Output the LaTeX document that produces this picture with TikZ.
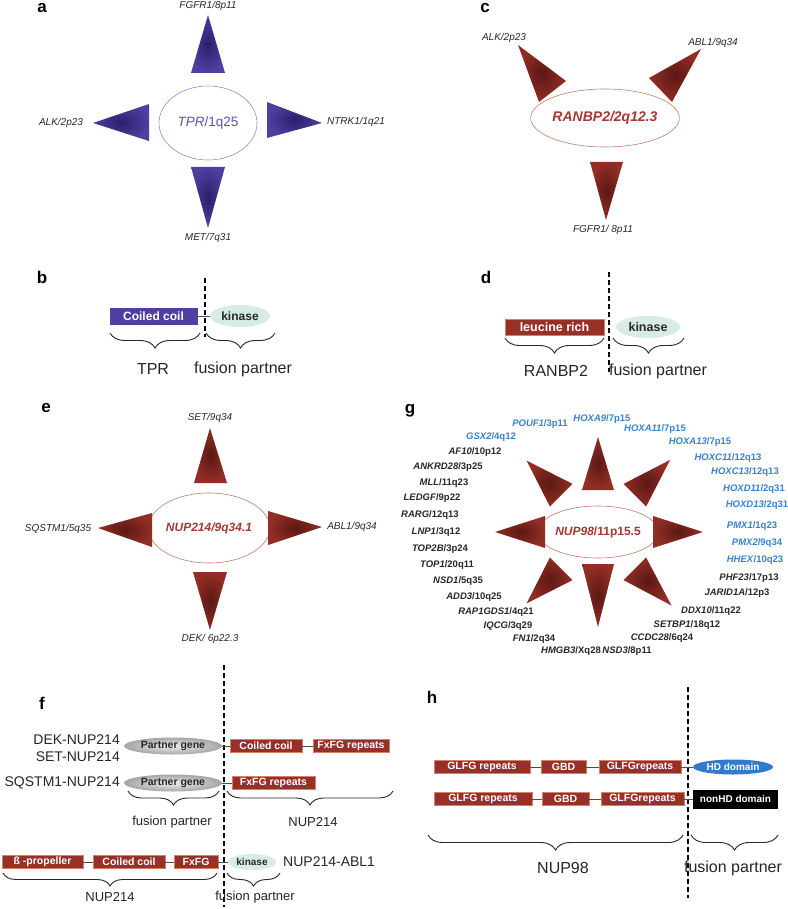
\documentclass[tikz,border=0pt]{standalone}
\usepackage{fontspec}
\setmainfont{Liberation Sans}
\usetikzlibrary{positioning, shapes.geometric, decorations.pathreplacing, calc}

\definecolor{tprpurple}{RGB}{80,62,160}
\definecolor{tprdark}{RGB}{44,30,108}
\definecolor{tprtext}{RGB}{96,78,186}
\definecolor{tprring}{RGB}{150,140,210}
\definecolor{nupred}{RGB}{146,46,38}
\definecolor{nupdark}{RGB}{92,24,20}
\definecolor{nuptext}{RGB}{166,56,52}
\definecolor{nupring}{RGB}{192,126,106}
\definecolor{domred}{RGB}{150,48,40}
\definecolor{domedge}{RGB}{214,128,104}
\definecolor{mint}{RGB}{214,236,228}
\definecolor{hdblue}{RGB}{50,122,204}
\definecolor{hoxblue}{RGB}{56,130,204}
\definecolor{inkgray}{RGB}{40,40,40}

\newcommand{\fsz}[1]{\fontsize{#1}{#1}\selectfont}

\begin{document}
\begin{tikzpicture}[x=1pt, y=-1pt,
  panel/.style={font=\fsz{17}\bfseries, inner sep=0pt},
  hub/.style={ellipse, draw=#1, fill=white, line width=0.6pt, inner sep=0pt},
  tria/.style={shading=radial, inner color=tprdark, outer color=tprpurple},
  trin/.style={shading=radial, inner color=nupdark, outer color=nupred},
  gene/.style={font=\fsz{10}\itshape, text=inkgray, inner sep=1pt},
  fus/.style={font=\fsz{9.5}\bfseries, text=#1, inner sep=0pt},
  fus/.default=inkgray,
  dom/.style={draw=domedge, fill=domred, line width=0.5pt, text=white, font=\fsz{10.5}\bfseries,
              minimum height=13pt, inner sep=0pt},
  kin/.style={ellipse, fill=mint, text=inkgray, inner sep=0pt},
  pgene/.style={ellipse, minimum width=98pt, minimum height=17pt, inner sep=0pt,
                inner color=gray!15, outer color=gray!70, font=\fsz{10.5}\bfseries, text=inkgray},
  link/.style={draw=gray!60!black, line width=0.8pt},
  cut/.style={line width=1.1pt, dash pattern=on 5pt off 3pt},
  brc/.style={decorate, decoration={brace, mirror, amplitude=#1}, draw=inkgray, line width=0.9pt},
  brc/.default=15pt,
  big/.style={font=\fsz{16}, text=black!85, inner sep=0pt},
  mid/.style={font=\fsz{13}, text=black!85, inner sep=0pt},
  tag/.style={font=\fsz{14}, text=black!85, inner sep=0pt}
]
\fill[white] (0,0) rectangle (787,909);
\useasboundingbox (0,0) rectangle (787,909);

% a: TPR partners
\node[panel] (la) at (42,8) {a};
\node[hub=tprring, minimum width=98pt, minimum height=74pt] (tpr) at (208,123)
  {\fsz{13.5}\color{tprtext}\textit{TPR}/1q25};
\shade[tria] (208,15) -- (225,73) -- (191,73) -- cycle;
\shade[tria] (93,123) -- (149,104) -- (149,141) -- cycle;
\shade[tria] (322,123) -- (267,102) -- (267,138) -- cycle;
\shade[tria] (208,228) -- (191,167) -- (225,167) -- cycle;
\node[gene] (fgfra) at (208,6) {FGFR1/8p11};
\node[gene] (alka) at (61,123) {ALK/2p23};
\node[gene] (ntrka) at (356,122) {NTRK1/1q21};
\node[gene] (meta) at (208,238) {MET/7q31};

% c: RANBP2 partners
\node[panel] (lc) at (485,8) {c};
\node[hub=nupring, minimum width=106pt, minimum height=58pt] (ranbp2) at (605,118)
  {\fsz{14}\bfseries\itshape\color{nuptext}RANBP2/2q12.3};
\shade[trin] (518,45) -- (566,81) -- (539,102) -- cycle;
\shade[trin] (701,49) -- (649,78) -- (672,102) -- cycle;
\shade[trin] (606,220) -- (590,162) -- (623,162) -- cycle;
\node[gene] (alkc) at (504,38) {ALK/2p23};
\node[gene] (ablc) at (713,43) {ABL1/9q34};
\node[gene] (fgfrc) at (603,230) {FGFR1/ 8p11};

% b: TPR fusion
\node[panel] (lb) at (42,277) {b};
\node[dom, fill=tprpurple, draw=tprpurple, minimum width=87pt, minimum height=16pt,
      font=\fsz{12}\bfseries] (ccb) at (153.5,316) {Coiled coil};
\node[kin, minimum width=60pt, minimum height=22pt, font=\fsz{12}\bfseries] (kinb) at (240,316) {kinase};
\draw[link] (ccb) -- (kinb);
\draw[cut] (205,278) -- (205,337);
\draw[brc] (110,333) -- (200,333);
\draw[brc] (206,333) -- (275,333);
\node[big] (tprb) at (153,369) {TPR};
\node[big] (fpb) at (243,369) {fusion partner};

% d: RANBP2 fusion
\node[panel] (ld) at (486,277) {d};
\node[dom, minimum width=99pt, minimum height=16pt, font=\fsz{12.5}\bfseries] (lrd) at (554.5,327) {leucine rich};
\node[kin, minimum width=64pt, minimum height=22pt, font=\fsz{12.5}\bfseries] (kind) at (648,327) {kinase};
\draw[cut] (609,272) -- (609,372);
\draw[brc] (505,338) -- (604,338);
\draw[brc] (613,338) -- (684,338);
\node[big] (ranbpd) at (556,371) {RANBP2};
\node[big] (fpd) at (658,371) {fusion partner};

% e: NUP214 partners
\node[panel] (le) at (46,408) {e};
\node[hub=nupring, minimum width=95pt, minimum height=70pt] (nup214) at (209,528)
  {\fsz{12}\bfseries\itshape\color{nuptext}NUP214/9q34.1};
\shade[trin] (210,428) -- (227,483) -- (194,483) -- cycle;
\shade[trin] (98,528) -- (152,513) -- (152,547) -- cycle;
\shade[trin] (322,527) -- (268,511) -- (268,545) -- cycle;
\shade[trin] (210,630) -- (193,572) -- (227,572) -- cycle;
\node[gene] (sete) at (210,418) {SET/9q34};
\node[gene] (sqstme) at (58,529) {SQSTM1/5q35};
\node[gene] (able) at (352,527) {ABL1/9q34};
\node[gene] (deke) at (210,639) {DEK/ 6p22.3};

% g: NUP98 partners
\node[panel] (lg) at (410,411) {g};
\node[hub=nupring, minimum width=86pt, minimum height=52pt] (nup98) at (598,532)
  {\fsz{12}\bfseries\color{nuptext}\textit{NUP98}/11p15.5};
\foreach \a/\rb/\ra in {0/55/105, 45/52/102, 90/42/95, 135/52/101, 180/53/103, 225/52/101, 270/32/95, 315/52/104}
  \shade[trin, shift={(598,532)}, rotate=\a] (\rb,-16) -- (\ra,0) -- (\rb,16) -- cycle;
\foreach \gn/\lc/\px/\py in {POUF1/3p11/540/424, GSX2/4q12/491/437, HOXA9/7p15/602/419,
    HOXA11/7p15/655/429, HOXA13/7p15/700/442, HOXC11/12q13/728/458, HOXC13/12q13/745/472,
    HOXD11/2q31/754/489, HOXD13/2q31/757/505, PMX1/1q23/752/526, PMX2/9q34/757/543, HHEX/10q23/755/560}
  \node[fus=hoxblue] (\gn) at (\px,\py) {\textit{\gn}/\lc};
\foreach \gn/\lc/\px/\py in {AF10/10p12/475/452, ANKRD28/3p25/448/467, MLL/11q23/444/483,
    LEDGF/9p22/432/498, RARG/12q13/430/515, LNP1/3q12/436/532, TOP2B/3p24/440/549,
    TOP1/20q11/447/565, NSD1/5q35/458/581, ADD3/10q25/474/597, RAP1GDS1/4q21/496/612,
    IQCG/3q29/508/626, FN1/2q34/534/639, HMGB3/Xq28/571/651, NSD3/8p11/627/651,
    CCDC28/6q24/662/638, SETBP1/18q12/687/625, DDX10/11q22/711/611, JARID1A/12p3/737/593,
    PHF23/17p13/749/578}
  \node[fus] (\gn) at (\px,\py) {\textit{\gn}/\lc};

% f: NUP214 fusions
\node[panel] (lf) at (42,703) {f};
\draw[cut] (224,665) -- (224,907);
\node[tag, anchor=east] (deknup) at (120,740) {DEK-NUP214};
\node[tag, anchor=east] (setnup) at (120,757) {SET-NUP214};
\node[tag, anchor=east] (sqnup) at (120,783) {SQSTM1-NUP214};
\node[pgene] (pg1) at (173,746) {Partner gene};
\node[pgene] (pg2) at (173,783) {Partner gene};
\node[dom, minimum width=72pt] (cc1) at (266,746) {Coiled coil};
\node[dom, minimum width=76pt] (fx1) at (351,746) {FxFG repeats};
\node[dom, minimum width=83pt] (fx2) at (273.5,783) {FxFG repeats};
\draw[link] (pg1) -- (cc1);
\draw[link] (cc1) -- (fx1);
\draw[link] (pg2) -- (fx2);
\draw[brc=14pt] (128,791) -- (219,791);
\draw[brc=14pt] (227,791) -- (393,791);
\node[mid] (fpf) at (172,822) {fusion partner};
\node[mid] (nupf) at (313,822) {NUP214};
\node[dom, minimum width=81pt] (prop) at (42.5,862) {ß -propeller};
\node[dom, minimum width=72pt] (cc3) at (129,862) {Coiled coil};
\node[dom, minimum width=44pt] (fxfg) at (196,862) {FxFG};
\node[kin, minimum width=48pt, minimum height=16pt, font=\fsz{10}\bfseries] (kinf) at (252,862) {kinase};
\node[tag, anchor=west] (ablnup) at (283,862) {NUP214-ABL1};
\draw[link] (prop) -- (cc3);
\draw[link] (cc3) -- (fxfg);
\draw[link] (fxfg) -- (kinf);
\draw[brc=13pt] (3,873) -- (217,873);
\draw[brc=13pt] (227,873) -- (280,873);
\node[mid] (nupf2) at (110,897) {NUP214};
\node[mid] (fpf2) at (255,897) {fusion partner};

% h: NUP98 fusions
\node[panel] (lh) at (432,697) {h};
\draw[cut] (688,687) -- (688,898);
\node[dom] (gl1) [minimum width=96pt] at (482,767) {GLFG repeats};
\node[dom] (gbd1) [minimum width=45pt] at (563.5,767) {GBD};
\node[dom] (gr1) [minimum width=82pt] at (640,767) {GLFGrepeats};
\node[ellipse, fill=hdblue, text=white, font=\fsz{10}\bfseries, inner sep=0pt,
      minimum width=80pt, minimum height=15pt] (hd) at (733,767) {HD domain};
\node[dom] (gl2) [minimum width=98pt] at (483,799) {GLFG repeats};
\node[dom] (gbd2) [minimum width=47pt] at (565.5,799) {GBD};
\node[dom] (gr2) [minimum width=83pt] at (642.5,799) {GLFGrepeats};
\node[fill=black, text=white, font=\fsz{10}\bfseries, inner sep=0pt,
      minimum width=85pt, minimum height=19pt] (nonhd) at (735.5,799) {nonHD domain};
\draw[link] (gl1) -- (gbd1);
\draw[link] (gbd1) -- (gr1);
\draw[link] (gr1) -- (hd);
\draw[link] (gl2) -- (gbd2);
\draw[link] (gbd2) -- (gr2);
\draw[link] (gr2) -- (nonhd);
\draw[brc] (428,835) -- (683,835);
\draw[brc] (691,835) -- (778,835);
\node[big] (nuph) at (563,868) {NUP98};
\node[big] (fph) at (733,868) {fusion partner};

\end{tikzpicture}
\end{document}
